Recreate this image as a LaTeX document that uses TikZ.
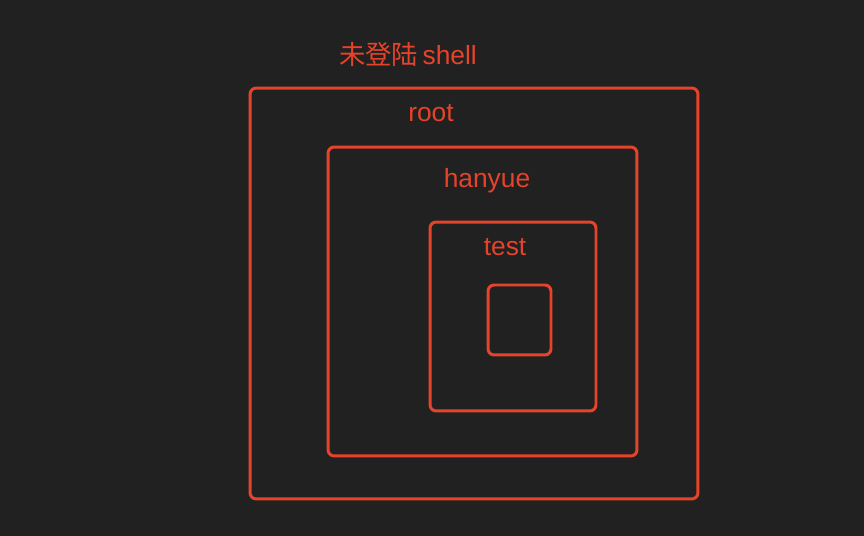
\documentclass[tikz,border=0pt]{standalone}
\usepackage{fontspec}
\setmainfont{Liberation Sans}
\newfontfamily\cjk{Noto Sans CJK SC}
\usepackage{tikz}
\definecolor{bg}{HTML}{212121}
\definecolor{boxred}{HTML}{E5432A}

\begin{document}
\begin{tikzpicture}[x=0.02cm, y=-0.02cm,
  every node/.style={inner sep=0pt, outer sep=0pt},
  box/.style={draw=boxred, line width=1.7pt, rounded corners=3.5pt},
  lbl/.style={text=boxred, font=\fontsize{15}{17}\selectfont}]
\fill[bg] (0,0) rectangle (864,536);

\node[box, minimum width=8.96cm, minimum height=8.22cm] (outer) at (474,293.5) {};
\node[box, minimum width=6.18cm, minimum height=6.18cm] (hanyuebox) at (482.5,301.5) {};
\node[box, minimum width=3.32cm, minimum height=3.78cm] (testbox) at (513,316.5) {};
\node[box, minimum width=1.26cm, minimum height=1.40cm] (inner) at (519.5,320) {};

\node[lbl] (shell) at (408,55) {{\cjk 未登陆}\,shell};
\node[lbl] (root) at (431,113) {root};
\node[lbl] (hanyue) at (487,181) {hanyue};
\node[lbl] (test) at (505,247) {test};
\end{tikzpicture}
\end{document}
